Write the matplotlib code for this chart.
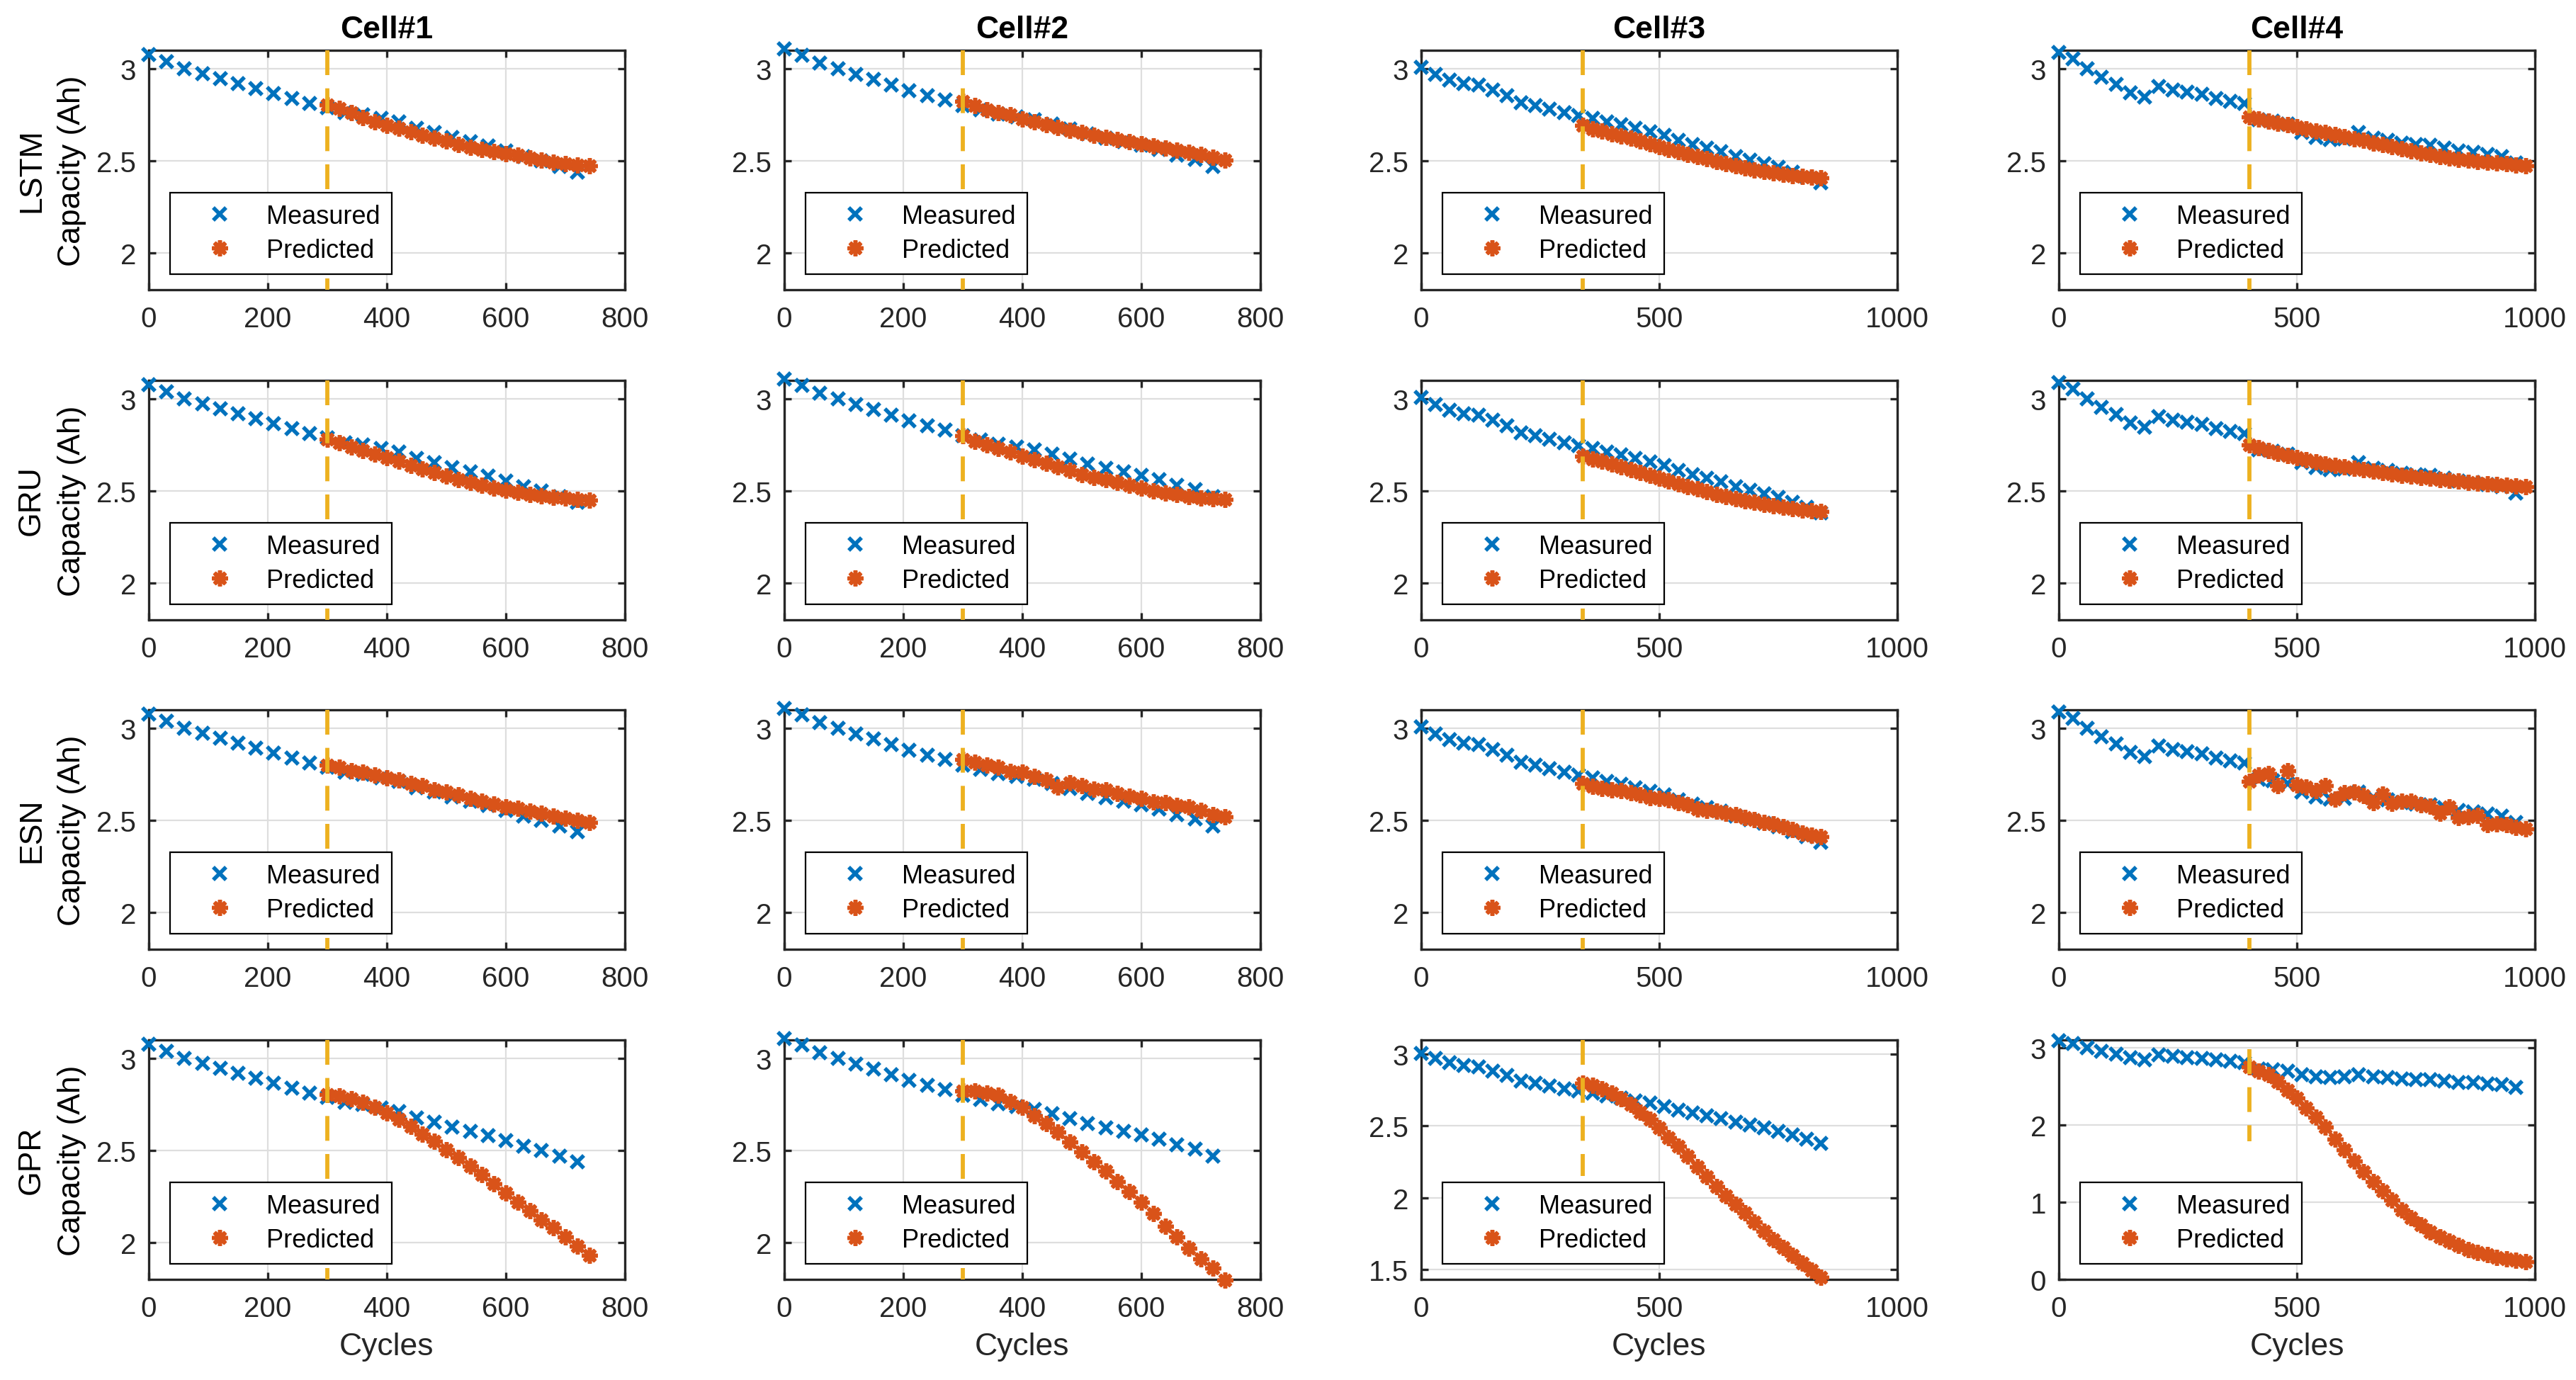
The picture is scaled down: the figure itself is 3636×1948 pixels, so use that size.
import matplotlib
matplotlib.use('Agg')
import matplotlib.pyplot as plt

plt.rcParams['font.family'] = ['Liberation Sans', 'DejaVu Sans']

# ---------------- data ----------------
cells = ['Cell#1', 'Cell#2', 'Cell#3', 'Cell#4']
models = ['LSTM', 'GRU', 'ESN', 'GPR']

meas_x_c1 = [0, 30, 60, 90, 120, 150, 180, 210, 240, 270, 300, 330, 360, 390, 420, 450, 480, 510, 540, 570, 600, 630, 660, 690, 720]
meas_y_c1 = [3.078, 3.038, 3.000, 2.975, 2.948, 2.920, 2.893, 2.864, 2.839, 2.812, 2.790, 2.763, 2.750, 2.730, 2.710, 2.676,
             2.654, 2.627, 2.605, 2.580, 2.553, 2.524, 2.500, 2.470, 2.440]
meas_x_c2 = [0, 30, 60, 90, 120, 150, 180, 210, 240, 270, 300, 330, 360, 390, 420, 450, 480, 510, 540, 570, 600, 630, 660, 690, 720]
meas_y_c2 = [3.106, 3.072, 3.031, 3.000, 2.969, 2.942, 2.912, 2.879, 2.852, 2.830, 2.800, 2.778, 2.755, 2.740, 2.725, 2.700,
             2.673, 2.648, 2.625, 2.603, 2.583, 2.561, 2.531, 2.506, 2.469]
meas_x_c3 = [0, 30, 60, 90, 120, 150, 180, 210, 240, 270, 300, 330, 360, 390, 420, 450, 480, 510, 540, 570, 600, 630, 660, 690,
             720, 750, 780, 810, 840]
meas_y_c3 = [3.006, 2.970, 2.940, 2.920, 2.913, 2.884, 2.853, 2.815, 2.800, 2.780, 2.760, 2.745, 2.730, 2.710, 2.695, 2.677,
             2.658, 2.638, 2.612, 2.590, 2.570, 2.550, 2.525, 2.505, 2.485, 2.465, 2.440, 2.410, 2.380]
meas_x_c4 = [0, 30, 60, 90, 120, 150, 180, 210, 240, 270, 300, 330, 360, 390, 420, 450, 480, 510, 540, 570, 600, 630, 660, 690,
             720, 750, 780, 810, 840, 870, 900, 930, 960]
meas_y_c4 = [3.088, 3.055, 3.000, 2.953, 2.914, 2.868, 2.847, 2.905, 2.886, 2.873, 2.860, 2.840, 2.822, 2.810, 2.725, 2.715,
             2.700, 2.655, 2.627, 2.615, 2.620, 2.655, 2.625, 2.610, 2.598, 2.590, 2.583, 2.570, 2.553, 2.548, 2.535, 2.525,
             2.490]

pred_x_c1 = [300, 320, 340, 360, 380, 400, 420, 440, 460, 480, 500, 520, 540, 560, 580, 600, 620, 640, 660, 680, 700, 720, 740]
pred_x_c2 = [300, 320, 340, 360, 380, 400, 420, 440, 460, 480, 500, 520, 540, 560, 580, 600, 620, 640, 660, 680, 700, 720, 740]
pred_x_c3 = [340, 360, 380, 400, 420, 440, 460, 480, 500, 520, 540, 560, 580, 600, 620, 640, 660, 680, 700, 720, 740, 760, 780,
             800, 820, 840]
pred_x_c4 = [400, 420, 440, 460, 480, 500, 520, 540, 560, 580, 600, 620, 640, 660, 680, 700, 720, 740, 760, 780, 800, 820, 840,
             860, 880, 900, 920, 940, 960, 980]

lstm_c1 = [2.805, 2.785, 2.760, 2.735, 2.710, 2.693, 2.677, 2.657, 2.638, 2.622, 2.606, 2.590, 2.574, 2.560, 2.549, 2.540,
           2.530, 2.517, 2.504, 2.494, 2.485, 2.478, 2.472]
lstm_c2 = [2.822, 2.800, 2.778, 2.763, 2.750, 2.728, 2.710, 2.695, 2.680, 2.666, 2.652, 2.638, 2.626, 2.614, 2.603, 2.591,
           2.580, 2.569, 2.557, 2.545, 2.533, 2.520, 2.503]
lstm_c3 = [2.692, 2.675, 2.662, 2.648, 2.635, 2.622, 2.607, 2.592, 2.576, 2.562, 2.549, 2.536, 2.523, 2.510, 2.497, 2.485,
           2.473, 2.461, 2.451, 2.442, 2.434, 2.427, 2.421, 2.416, 2.412, 2.409]
lstm_c4 = [2.740, 2.728, 2.715, 2.705, 2.697, 2.685, 2.673, 2.663, 2.652, 2.643, 2.631, 2.620, 2.610, 2.598, 2.588, 2.577,
           2.566, 2.555, 2.544, 2.533, 2.522, 2.515, 2.508, 2.503, 2.498, 2.493, 2.488, 2.483, 2.478, 2.472]

gru_c1 = [2.780, 2.760, 2.740, 2.720, 2.700, 2.680, 2.660, 2.640, 2.620, 2.600, 2.580, 2.560, 2.545, 2.530, 2.515, 2.503,
          2.492, 2.482, 2.474, 2.466, 2.460, 2.455, 2.450]
gru_c2 = [2.800, 2.770, 2.750, 2.730, 2.710, 2.690, 2.670, 2.650, 2.630, 2.610, 2.590, 2.575, 2.560, 2.545, 2.530, 2.515,
          2.500, 2.490, 2.480, 2.470, 2.463, 2.457, 2.452]
gru_c3 = [2.690, 2.675, 2.660, 2.645, 2.630, 2.615, 2.600, 2.585, 2.570, 2.555, 2.540, 2.525, 2.510, 2.495, 2.482, 2.470,
          2.458, 2.447, 2.437, 2.428, 2.420, 2.412, 2.405, 2.398, 2.392, 2.387]
gru_c4 = [2.750, 2.735, 2.720, 2.705, 2.692, 2.680, 2.668, 2.657, 2.647, 2.638, 2.630, 2.622, 2.614, 2.607, 2.600, 2.593,
          2.586, 2.580, 2.574, 2.568, 2.562, 2.557, 2.552, 2.547, 2.543, 2.539, 2.535, 2.531, 2.528, 2.525]

esn_c1 = [2.800, 2.790, 2.770, 2.760, 2.745, 2.730, 2.720, 2.700, 2.690, 2.665, 2.655, 2.640, 2.620, 2.605, 2.590, 2.575,
          2.565, 2.550, 2.540, 2.525, 2.510, 2.500, 2.490]
esn_c2 = [2.830, 2.815, 2.800, 2.790, 2.765, 2.760, 2.740, 2.720, 2.680, 2.705, 2.690, 2.670, 2.665, 2.645, 2.630, 2.620,
          2.600, 2.595, 2.580, 2.575, 2.555, 2.530, 2.520]
esn_c3 = [2.700, 2.685, 2.675, 2.665, 2.660, 2.650, 2.640, 2.625, 2.620, 2.610, 2.595, 2.585, 2.560, 2.555, 2.550, 2.540,
          2.530, 2.515, 2.505, 2.490, 2.480, 2.465, 2.450, 2.430, 2.420, 2.410]
esn_c4 = [2.713, 2.745, 2.752, 2.688, 2.768, 2.694, 2.680, 2.662, 2.688, 2.617, 2.649, 2.655, 2.636, 2.598, 2.643, 2.592,
          2.604, 2.604, 2.585, 2.578, 2.540, 2.572, 2.514, 2.520, 2.527, 2.476, 2.482, 2.476, 2.463, 2.454]

gpr_c1 = [2.805, 2.795, 2.780, 2.760, 2.735, 2.705, 2.670, 2.630, 2.590, 2.550, 2.505, 2.460, 2.415, 2.370, 2.320, 2.270,
          2.220, 2.175, 2.125, 2.080, 2.030, 1.980, 1.930]
gpr_c2 = [2.825, 2.825, 2.810, 2.800, 2.765, 2.735, 2.690, 2.645, 2.600, 2.545, 2.494, 2.440, 2.390, 2.330, 2.278, 2.218,
          2.158, 2.090, 2.030, 1.970, 1.910, 1.860, 1.795]
gpr_c3 = [2.798, 2.783, 2.758, 2.727, 2.690, 2.648, 2.598, 2.545, 2.485, 2.420, 2.360, 2.290, 2.218, 2.148, 2.078, 2.015,
          1.955, 1.892, 1.830, 1.768, 1.705, 1.650, 1.598, 1.545, 1.495, 1.445]
gpr_c4 = [2.753, 2.700, 2.647, 2.559, 2.453, 2.347, 2.224, 2.100, 1.976, 1.818, 1.676, 1.535, 1.394, 1.270, 1.147, 1.024,
          0.900, 0.794, 0.706, 0.617, 0.547, 0.494, 0.441, 0.388, 0.353, 0.318, 0.282, 0.265, 0.247, 0.229]

meas_x = [meas_x_c1, meas_x_c2, meas_x_c3, meas_x_c4]
meas_y = [meas_y_c1, meas_y_c2, meas_y_c3, meas_y_c4]
pred_x = [pred_x_c1, pred_x_c2, pred_x_c3, pred_x_c4]
pred_y = [[lstm_c1, lstm_c2, lstm_c3, lstm_c4],
          [gru_c1, gru_c2, gru_c3, gru_c4],
          [esn_c1, esn_c2, esn_c3, esn_c4],
          [gpr_c1, gpr_c2, gpr_c3, gpr_c4]]

split_cycle = [300, 300, 340, 400]
split_y = [[(1.8, 3.1)] * 4, [(1.8, 3.1)] * 4, [(1.8, 3.1)] * 4,
           [(1.8, 3.1), (1.8, 3.1), (2.15, 3.1), (1.79, 2.98)]]

xlims = [(0, 800), (0, 800), (0, 1000), (0, 1000)]
xticks = [[0, 200, 400, 600, 800], [0, 200, 400, 600, 800], [0, 500, 1000], [0, 500, 1000]]
ylims = [[(1.8, 3.1)] * 4, [(1.8, 3.1)] * 4, [(1.8, 3.1)] * 4,
         [(1.8, 3.1), (1.8, 3.1), (1.43, 3.1), (0, 3.1)]]
yticks = [[[2, 2.5, 3]] * 4, [[2, 2.5, 3]] * 4, [[2, 2.5, 3]] * 4,
          [[2, 2.5, 3], [2, 2.5, 3], [1.5, 2, 2.5, 3], [0, 1, 2, 3]]]
ytick_labels = {2: '2', 2.5: '2.5', 3: '3', 1.5: '1.5', 0: '0', 1: '1'}

# ---------------- style ----------------
BLUE = '#0072BD'
ORANGE = '#D95319'
YELLOW = '#EDB120'
AXC = '#262626'

W, H = 3637, 1949
col_left = [210, 1107, 2006, 2906]
row_top = [72, 538, 1003, 1469]
aw, ah = 672, 338

fig = plt.figure(figsize=(W / 100, H / 100), dpi=100)

for r in range(4):
    for c in range(4):
        ax = fig.add_axes([col_left[c] / W, 1 - (row_top[r] + ah) / H, aw / W, ah / H])
        hm, = ax.plot(meas_x[c], meas_y[c], ls='none', marker='x', ms=13, mew=4.0,
                      color=BLUE, clip_on=False, zorder=3, label='Measured')
        hp, = ax.plot(pred_x[c], pred_y[r][c], ls='none', marker=(8, 2, 0), ms=16, mew=4.0,
                      color=ORANGE, mec=ORANGE, mfc=ORANGE, clip_on=False, zorder=4, label='Predicted')
        y0, y1 = split_y[r][c]
        ax.plot([split_cycle[c], split_cycle[c]], [y1, y0], color=YELLOW, lw=4.2,
                ls=(0, (6.0, 3.2)), zorder=5)
        ax.set_xlim(*xlims[c])
        ax.set_ylim(*ylims[r][c])
        ax.set_xticks(xticks[c])
        ax.set_yticks(yticks[r][c])
        ax.set_yticklabels([ytick_labels[v] for v in yticks[r][c]])
        ax.grid(True, color='#dedede', lw=1.6)
        ax.set_axisbelow(True)
        for sp in ax.spines.values():
            sp.set_color(AXC)
            sp.set_linewidth(2.4)
        ax.tick_params(direction='in', length=7, width=2.4, colors=AXC, labelsize=29,
                       top=True, right=True)
        ax.tick_params(axis='x', pad=16)
        ax.tick_params(axis='y', pad=13)
        leg = ax.legend(handles=[hm, hp], loc='lower left', bbox_to_anchor=(0.0446, 0.0655),
                        borderaxespad=0, fontsize=26, frameon=True, fancybox=False,
                        edgecolor='#000000', framealpha=1, borderpad=0.45,
                        handlelength=3.0, handletextpad=0.33, labelspacing=0.35)
        leg.get_frame().set_linewidth(1.6)
        if r == 0:
            ax.set_title(cells[c], fontsize=32, fontweight='bold', pad=13)
        if c == 0:
            ax.set_ylabel(models[r] + '\nCapacity (Ah)', fontsize=32, linespacing=1.5,
                          labelpad=10, color='#000000')
        if r == 3:
            ax.set_xlabel('Cycles', fontsize=32, labelpad=10, color=AXC)

fig.savefig('out.png', dpi=100)
